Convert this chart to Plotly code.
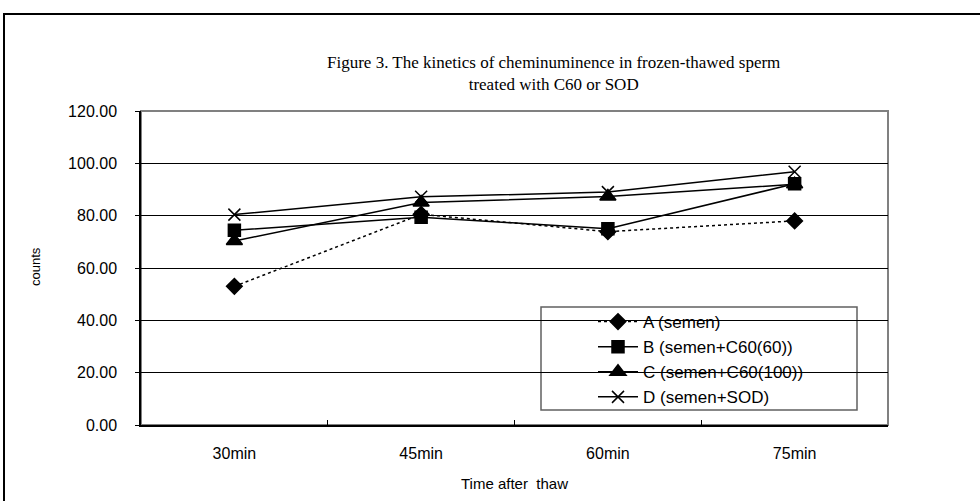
import plotly.graph_objects as go

times = ["30min", "45min", "60min", "75min"]
series_names = ["A (semen)", "B (semen+C60(60))", "C (semen+C60(100))", "D (semen+SOD)"]
vals_a = [53.0, 80.5, 73.9, 78.0]
vals_b = [74.4, 79.4, 75.0, 92.2]
vals_c = [70.3, 85.0, 87.3, 92.0]
vals_d = [80.4, 87.2, 89.0, 96.8]
y_ticks = [0, 20, 40, 60, 80, 100, 120]
y_tick_text = ["0.00", "20.00", "40.00", "60.00", "80.00", "100.00", "120.00"]

# pixel layout
W, H = 980, 501
PL, PR, PT, PB = 141, 888, 111, 425
pw, ph = PR - PL, PB - PT
def px(x):
    return (x - PL) / pw
def py(y):
    return (PB - y) / ph

fig = go.Figure()
styles = [
    dict(dash="dot", symbol="diamond", size=12),
    dict(dash="solid", symbol="square", size=12),
    dict(dash="solid", symbol="triangle-up", size=14),
    dict(dash="solid", symbol="x-thin", size=12),
]
for name, vals, st in zip(series_names, [vals_a, vals_b, vals_c, vals_d], styles):
    fig.add_trace(go.Scatter(
        x=times, y=vals, name=name, mode="lines+markers",
        line=dict(color="black", width=1.5, dash=st["dash"]),
        marker=dict(symbol=st["symbol"], size=st["size"], color="black",
                    line=dict(color="black", width=1.5)),
    ))

axis_font = dict(family="Liberation Sans, Arial, sans-serif", size=16, color="black")

fig.update_layout(
    width=W, height=H,
    margin=dict(l=PL, r=W - PR, t=PT, b=H - PB),
    paper_bgcolor="white", plot_bgcolor="white",
    showlegend=True,
    legend=dict(
        x=px(593), y=py(304), xanchor="left", yanchor="top",
        bgcolor="rgba(0,0,0,0)", borderwidth=0,
        font=dict(family="Liberation Sans, Arial, sans-serif", size=17, color="black"),
        itemwidth=40, tracegroupgap=0,
    ),
    xaxis=dict(
        type="category", range=[-0.5, 3.5],
        showline=True, linecolor="black", linewidth=2,
        ticks="inside", tickson="boundaries", ticklen=5, tickcolor="black",
        tickfont=axis_font, ticklabelstandoff=13,
        showgrid=False, zeroline=False,
    ),
    yaxis=dict(
        range=[0, 120], tickvals=y_ticks, ticktext=y_tick_text,
        showline=True, linecolor="black", linewidth=1.5,
        ticks="outside", ticklen=4, tickcolor="black",
        tickfont=axis_font, ticklabelstandoff=15,
        showgrid=True, gridcolor="black", gridwidth=1,
        zeroline=False,
    ),
    shapes=[
        # outer chart border
        dict(type="rect", xref="paper", yref="paper",
             x0=px(4), x1=px(990), y0=py(515), y1=py(14),
             line=dict(color="black", width=2), fillcolor="rgba(0,0,0,0)", layer="below"),
        # plot area border (grey top/right)
        dict(type="rect", xref="paper", yref="paper", x0=0, x1=1, y0=0, y1=1,
             line=dict(color="#808080", width=2), fillcolor="rgba(0,0,0,0)", layer="between"),
        # legend box
        dict(type="rect", xref="paper", yref="paper",
             x0=px(541), x1=px(857), y0=py(410), y1=py(307),
             line=dict(color="#606060", width=1.5), fillcolor="white", layer="between"),
    ],
    annotations=[
        dict(text="Figure 3. The kinetics of cheminuminence in frozen-thawed sperm<br>treated with C60 or SOD",
             xref="paper", yref="paper", x=px(553), y=py(73), xanchor="center", yanchor="middle",
             showarrow=False, align="center",
             font=dict(family="Liberation Serif, Times New Roman, serif", size=17, color="black")),
        dict(text="counts", xref="paper", yref="paper", x=px(35), y=py(267),
             xanchor="center", yanchor="middle", textangle=-90, showarrow=False,
             font=dict(family="Liberation Sans, Arial, sans-serif", size=13, color="black")),
        dict(text="Time after  thaw", xref="paper", yref="paper", x=px(514), y=py(483),
             xanchor="center", yanchor="middle", showarrow=False,
             font=dict(family="Liberation Sans, Arial, sans-serif", size=15, color="black")),
    ],
)

fig.write_html("out.html")
